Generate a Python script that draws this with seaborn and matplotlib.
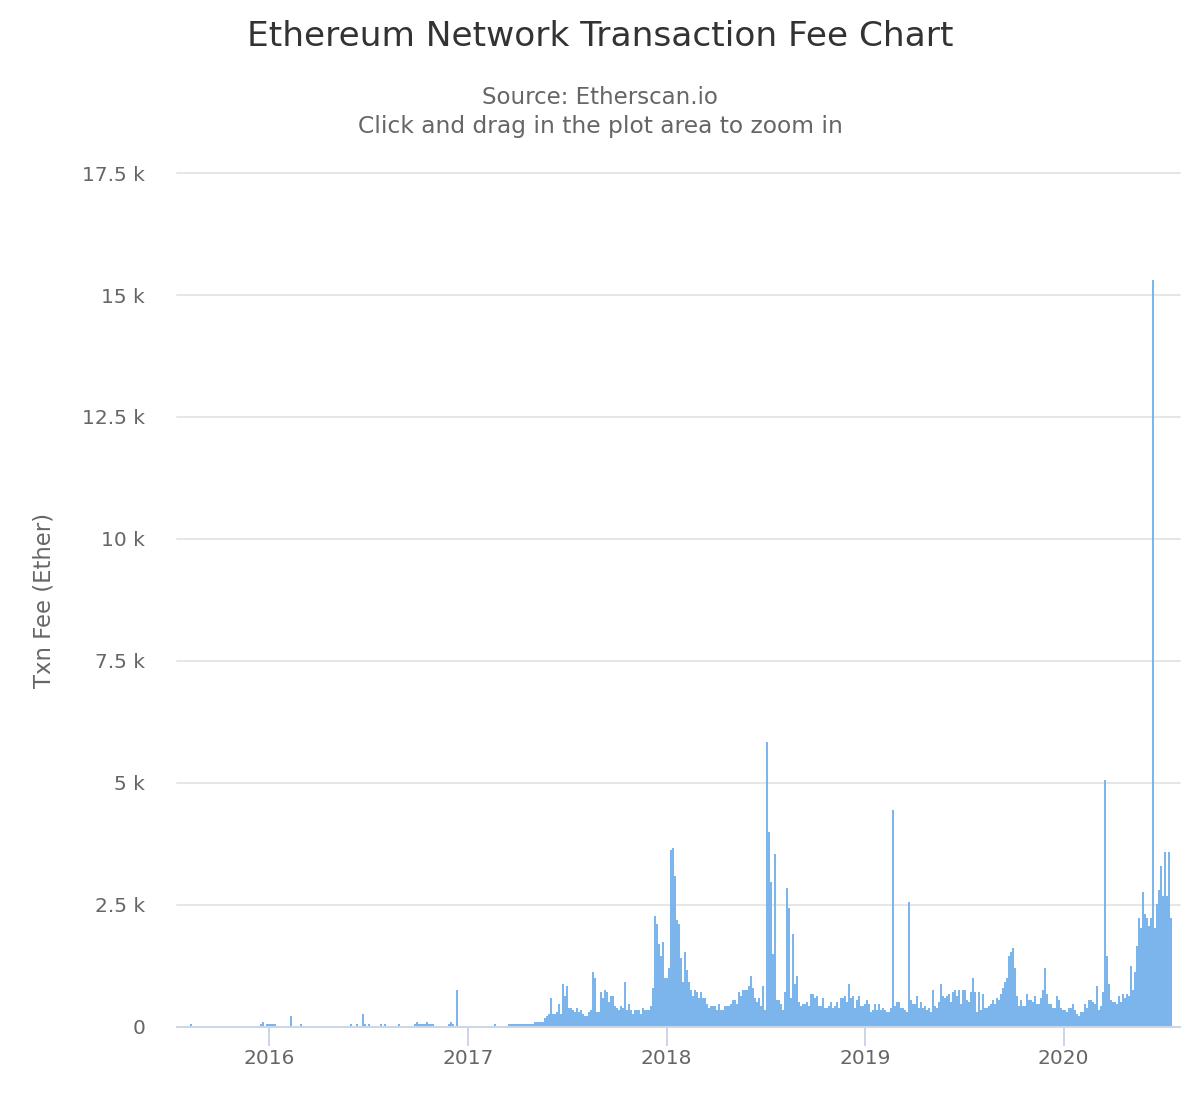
import matplotlib
matplotlib.use("Agg")
import matplotlib.dates as mdates
import matplotlib.pyplot as plt
import pandas as pd
import seaborn as sns

# Txn fee in Ether per bar, one list per stretch of the chart
fees_early = (
    [0] * 6 + [61] + [0] * 34 + [61, 102, 0] + [61] * 5 + [0] * 7 + [225] + [0] * 4 + [61]
    + [0] * 24 + [61, 0, 0, 61, 0, 0, 266, 61, 0, 61] + [0] * 5 + [61, 0, 61] + [0] * 6 + [61]
    + [0] * 7 + [61, 102, 61, 61, 61, 61, 102, 61, 61, 61] + [0] * 7 + [61, 102, 61, 0, 758]
    + [0] * 18 + [61] + [0] * 6
)
fees_2017 = [
    61, 61, 61, 61, 61, 61, 61, 61, 61, 61, 61, 61, 61, 102, 102, 102, 102, 102,
    184, 225, 266, 594, 266, 266, 307, 471, 266, 881, 635, 840, 389, 389, 348, 307,
    389, 307, 348, 266, 225, 225, 307, 348, 1127, 1004, 307, 307, 717, 594, 758, 717,
    512, 635, 635, 430, 389, 348, 430, 389, 922, 348, 471, 348, 266, 348, 348, 348,
    266, 389, 348, 348, 348, 430, 799, 2274, 2110, 1700, 1454, 1741, 1004, 1004, 1208,
    3626, 3667, 3094, 2192, 2110, 1413, 922, 1536, 1167, 922, 758, 635, 758, 717, 594,
    717, 594, 594, 471, 389, 430, 430, 430, 348, 471, 348, 348, 430, 430, 430,
]
fees_2018 = [
    471, 553, 553, 471, 717, 635, 758, 758, 758, 840, 1045, 799, 594, 512, 594, 430,
    840, 348, 5839, 3995, 2971, 1495, 3544, 553, 553, 471, 348, 717, 2848, 2438, 594,
    1905, 881, 1045, 512, 430, 471, 471, 512, 430, 676, 676, 594, 635, 430, 430, 594,
    389, 389, 430, 512, 389, 430, 512, 389, 594, 594, 635, 512, 881, 594, 635, 389,
    553, 635, 430, 430, 471, 553, 471, 307, 348, 471, 348, 471, 348, 389, 348, 307,
    307, 389, 4446, 430, 512, 512, 389, 389, 348, 307, 2561, 553, 471, 471, 635, 389,
    512, 389, 430, 348, 389, 307, 758, 430, 389, 512, 881, 635, 594, 635, 676, 512,
    717, 758, 635, 758,
]
fees_2019 = [
    471, 758, 758, 553, 512, 717, 1004, 717, 307, 717, 348, 676, 389, 389, 430, 471,
    553, 471, 594, 553, 676, 799, 922, 1004, 1454, 1536, 1618, 1208, 635, 430, 553, 430,
    430, 676, 553, 553, 512, 635, 471, 471, 594, 758, 1208, 676, 471, 471, 389, 389,
    635, 553, 389, 348, 348, 307, 389, 389, 471, 348, 266, 225, 307, 307, 471, 389,
    553, 553, 512, 471, 840, 348, 430, 717, 5070, 1454, 881, 553, 512, 512, 471, 635,
    512, 676, 594, 676, 635, 1249, 758, 1127, 1659, 2233, 2028, 2766, 2315, 2233, 2069,
    2233, 15310, 2028, 2520, 2807, 3298, 2684, 3585, 2684, 3585, 2233,
]
start_date = "2015-07-19 16:00"
bar_freq = "5295min"

y_ticks = [0, 2500, 5000, 7500, 10000, 12500, 15000, 17500]
y_labels = ["0", "2.5 k", "5 k", "7.5 k", "10 k", "12.5 k", "15 k", "17.5 k"]
x_tick_dates = ["2016-01-01", "2017-01-01", "2018-01-01", "2019-01-01", "2020-01-01"]
x_labels = ["2016", "2017", "2018", "2019", "2020"]

BAR_COLOR = "#7cb5ec"
GRID_COLOR = "#e6e6e6"
AXIS_COLOR = "#ccd6eb"
LABEL_COLOR = "#666666"
TITLE_COLOR = "#333333"

sns.set_theme(style="whitegrid", rc={"axes.grid.axis": "y", "grid.color": GRID_COLOR, "grid.linewidth": 1.4})
plt.rcParams["font.family"] = ["DejaVu Sans"]

fees = fees_early + fees_2017 + fees_2018 + fees_2019
dates = pd.date_range(start_date, periods=len(fees), freq=bar_freq)
df = pd.DataFrame({"day": mdates.date2num(dates), "fee": fees})

fig = plt.figure(figsize=(12, 11), dpi=100)
ax = fig.add_axes([177 / 1200, 1 - 1027 / 1100, (1180 - 177) / 1200, (1027 - 173) / 1100])

sns.barplot(data=df, x="day", y="fee", native_scale=True, width=1, color=BAR_COLOR,
            saturation=1, linewidth=0, errorbar=None, ax=ax)
for patch in ax.patches:
    patch.set_antialiased(False)

ax.set_axisbelow(True)
ax.set_ylim(0, 17500)
ax.set_xlim(mdates.date2num(pd.Timestamp("2016-01-01") - pd.Timedelta(days=169)),
            mdates.date2num(pd.Timestamp("2016-01-01") + pd.Timedelta(days=1675)))
ax.set_yticks(y_ticks, y_labels)
ax.set_xticks(mdates.date2num(pd.to_datetime(x_tick_dates)), x_labels)
ax.tick_params(axis="y", length=0, pad=23, labelsize=14.5, labelcolor=LABEL_COLOR)
ax.tick_params(axis="x", length=14, width=1.44, color=AXIS_COLOR, pad=2,
               labelsize=14.5, labelcolor=LABEL_COLOR, bottom=True)
ax.set_xlabel("")
ax.set_ylabel("")
# top gridline sits on the axes edge, would get clipped to half its width
for line in ax.get_ygridlines():
    line.set_clip_on(False)
for side in ["top", "right", "left"]:
    ax.spines[side].set_visible(False)
ax.spines["bottom"].set_color(AXIS_COLOR)
ax.spines["bottom"].set_linewidth(1.44)

fig.text(0.5, 1 - 37 / 1100, "Ethereum Network Transaction Fee Chart", ha="center", va="center",
         fontsize=24.75, color=TITLE_COLOR)
fig.text(0.5, 1 - 97 / 1100, "Source: Etherscan.io", ha="center", va="center",
         fontsize=16.5, color=LABEL_COLOR)
fig.text(0.5, 1 - 127 / 1100, "Click and drag in the plot area to zoom in", ha="center", va="center",
         fontsize=16.8, color=LABEL_COLOR)
fig.text(44 / 1200, 1 - 600 / 1100, "Txn Fee (Ether)", rotation=90, ha="center", va="center",
         fontsize=16.4, color=LABEL_COLOR)

fig.savefig("out.png", dpi=100)
